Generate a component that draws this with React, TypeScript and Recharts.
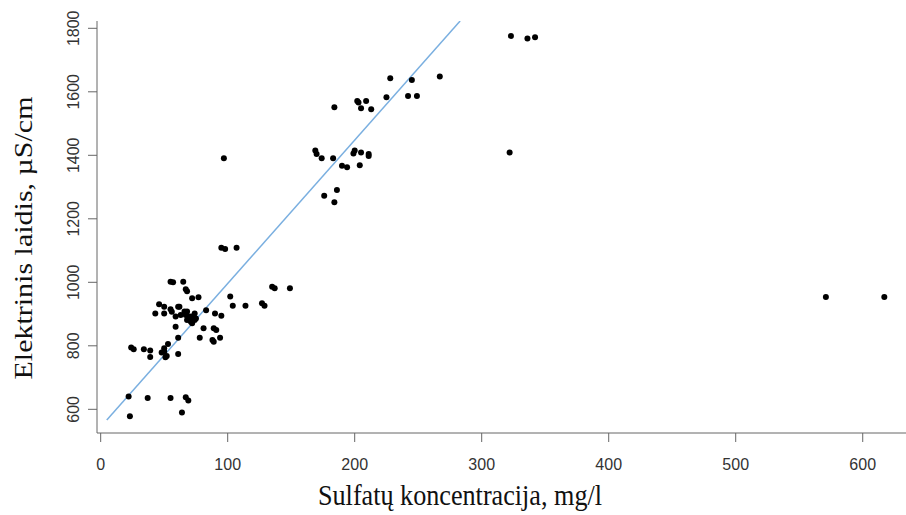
import React from 'react';
import { ScatterChart, Scatter, XAxis, YAxis, ReferenceLine, Label } from 'recharts';

// sulfate concentration (mg/l) and electrical conductivity (µS/cm)
const sulfate = [
  22, 23, 37, 55, 67, 69, 64,
  24, 26, 34, 39, 39, 48, 50, 51, 52, 53, 61, 50,
  61, 78, 88, 89, 94,
  59, 81, 89, 91,
  43, 50, 56, 46, 55, 62, 50, 61,
  59, 63, 66, 67, 68, 70, 72, 74, 75, 68, 71, 72, 74,
  83, 90, 95,
  55, 57, 65, 67, 68, 72, 77,
  102, 104, 114, 127, 129, 135, 137, 149,
  95, 98, 107, 97,
  169, 170, 174, 183, 190, 194, 199, 200, 205, 211, 211, 204,
  176, 186, 184,
  184, 202, 203, 209, 205, 213, 225, 242, 249,
  228, 245, 267,
  323, 336, 342, 322,
  571, 617,
];
const conductivity = [
  640, 578, 636, 636, 638, 628, 590,
  795, 789, 789, 785, 765, 779, 782, 764, 768, 806, 774, 792,
  825, 825, 818, 813, 825,
  860, 855, 855, 850,
  902, 902, 907, 931, 915, 923, 923, 923,
  892, 897, 908, 897, 908, 892, 892, 902, 886, 881, 876, 871, 881,
  912, 902, 895,
  1002, 1000, 1002, 978, 972, 950, 953,
  955, 926, 926, 934, 926, 986, 981, 981,
  1109, 1105, 1109, 1391,
  1415, 1404, 1391, 1391, 1367, 1362, 1406, 1415, 1409, 1404, 1398, 1369,
  1273, 1291, 1252,
  1551, 1571, 1566, 1571, 1548, 1545, 1583, 1587, 1587,
  1643, 1637, 1648,
  1776, 1768, 1772, 1409,
  954, 954,
];

const xTicks = [0, 100, 200, 300, 400, 500, 600];
const yTicks = [600, 800, 1000, 1200, 1400, 1600, 1800];

// fitted regression line, start and end
const fitX = [4.8, 283];
const fitY = [566, 1823];

const points = sulfate.map((x, i) => ({ x, y: conductivity[i] }));

const XTick = (props: any) => {
  const { x, y, payload } = props;
  return (
    <text x={x} y={y + 20} dy="0.35em" textAnchor="middle" fontSize={16}
      fontFamily="'Liberation Sans', Arial, sans-serif" fill="#333">
      {payload.value}
    </text>
  );
};

const YTick = (props: any) => {
  const { x, y, payload } = props;
  const cx = x - 13;
  return (
    <text x={cx} y={y} dy="0.35em" textAnchor="middle" fontSize={16}
      fontFamily="'Liberation Sans', Arial, sans-serif" fill="#333"
      transform={`rotate(-90, ${cx}, ${y})`}>
      {payload.value}
    </text>
  );
};

const Dot = (props: any) => <circle cx={props.cx} cy={props.cy} r={3} fill="#000" />;

const App = () => {
  return (
    <div style={{ position: 'absolute', left: 0, top: 0, width: 906, height: 515, overflow: 'hidden', background: '#fff' }}>
      <ScatterChart width={912} height={515} margin={{ top: 21, right: 0, left: 0, bottom: 0 }}>
        <XAxis
          type="number"
          dataKey="x"
          domain={[-2.9, 638.8]}
          ticks={xTicks}
          allowDataOverflow
          height={82}
          tickSize={9}
          stroke="#666"
          tick={<XTick />}
        >
          <Label
            content={() => (
              <text x={460} y={505} textAnchor="middle" fontSize={30}
                fontFamily="'Liberation Serif', 'Times New Roman', serif" fill="#111"
                textLength={284} lengthAdjust="spacingAndGlyphs">
                Sulfatų koncentracija, mg/l
              </text>
            )}
          />
        </XAxis>
        <XAxis xAxisId="top" type="number" orientation="top" domain={[-2.9, 638.8]} height={0} tick={false} tickLine={false} stroke="#777" />
        <YAxis
          type="number"
          dataKey="y"
          domain={[525.4, 1823]}
          ticks={yTicks}
          allowDataOverflow
          width={97}
          tickSize={9}
          stroke="#666"
          tick={<YTick />}
        >
          <Label
            content={() => (
              <text x={0} y={0} textAnchor="middle" fontSize={30}
                fontFamily="'Liberation Serif', 'Times New Roman', serif" fill="#111"
                transform="translate(32, 238) scale(0.87, 1) rotate(-90)">
                Elektrinis laidis, µS/cm
              </text>
            )}
          />
        </YAxis>
        <ReferenceLine
          segment={[{ x: fitX[0], y: fitY[0] }, { x: fitX[1], y: fitY[1] }]}
          stroke="#7aafe0"
          strokeWidth={1.5}
          ifOverflow="hidden"
        />
        <Scatter data={points} shape={<Dot />} isAnimationActive={false} />
      </ScatterChart>
    </div>
  );
};

export default App;
